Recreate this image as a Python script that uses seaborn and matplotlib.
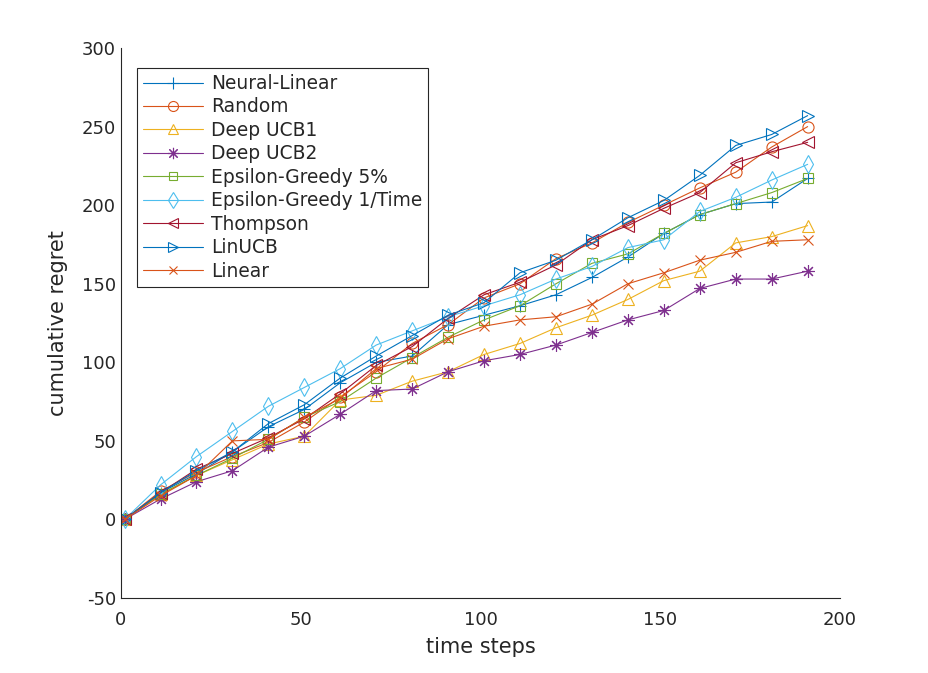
import numpy as np
import pandas as pd
import matplotlib
matplotlib.use('Agg')
import matplotlib.pyplot as plt
import seaborn as sns

# time steps (x) and cumulative regret per method
steps = [1, 11, 21, 31, 41, 51, 61, 71, 81, 91, 101, 111, 121, 131, 141, 151, 161, 171, 181, 191]

neural_linear = [0, 17, 29, 43, 59, 70, 87, 100, 104, 124, 130, 136, 143, 154, 167, 182, 194, 201, 202, 217]
random_ = [0, 18, 30, 40, 49, 62, 78, 94, 112, 124, 141, 150, 166, 176, 189, 200, 211, 221, 237, 250]
deep_ucb1 = [0, 16, 28, 38, 48, 53, 76, 79, 88, 94, 105, 112, 122, 130, 140, 152, 158, 176, 180, 187]
deep_ucb2 = [0, 13, 24, 31, 46, 53, 67, 82, 83, 94, 101, 105, 111, 119, 127, 133, 147, 153, 153, 158]
eps_5 = [0, 16, 28, 39, 51, 65, 75, 90, 103, 116, 127, 136, 150, 163, 169, 182, 194, 201, 208, 217]
eps_time = [0, 22, 40, 56, 72, 84, 96, 111, 120, 129, 136, 143, 153, 161, 173, 178, 196, 205, 216, 226]
thompson = [0, 17, 32, 42, 52, 64, 80, 98, 110, 128, 143, 151, 162, 178, 187, 198, 208, 227, 234, 240]
linucb = [0, 17, 31, 43, 61, 73, 90, 104, 117, 130, 138, 157, 165, 178, 192, 203, 219, 238, 245, 257]
linear = [0, 15, 28, 50, 51, 65, 77, 96, 102, 115, 123, 127, 129, 137, 150, 157, 165, 170, 177, 178]

names = ['Neural-Linear', 'Random', 'Deep UCB1', 'Deep UCB2', 'Epsilon-Greedy 5%',
         'Epsilon-Greedy 1/Time', 'Thompson', 'LinUCB', 'Linear']
series = [neural_linear, random_, deep_ucb1, deep_ucb2, eps_5, eps_time, thompson, linucb, linear]

# matlab default colour order
colors = ['#0072BD', '#D95319', '#EDB120', '#7E2F8E', '#77AC30',
          '#4DBEEE', '#A2142F', '#0072BD', '#D95319']
markers = ['+', 'o', '^', (8, 2, 0), 's', 'd', '<', '>', 'x']
msizes = [9, 8, 8, 9, 7, 9, 8, 8, 7]

sns.set_style('white')
plt.rcParams['font.family'] = ['DejaVu Sans']
plt.rcParams['axes.unicode_minus'] = False

fig = plt.figure(figsize=(9.29, 6.73), dpi=100)
ax = fig.add_axes([0.1302, 0.1114, 0.774, 0.8172])

for name, vals, c, m, ms in zip(names, series, colors, markers, msizes):
    sns.lineplot(x=steps, y=vals, ax=ax, color=c, marker=m, markersize=ms,
                 markerfacecolor='none', markeredgecolor=c, markeredgewidth=0.8,
                 linewidth=0.8, label=name)

ax.set_xlim(0, 200)
ax.set_ylim(-50, 300)
ax.set_xticks([0, 50, 100, 150, 200])
ax.set_yticks([-50, 0, 50, 100, 150, 200, 250, 300])
ax.tick_params(direction='in', length=5, width=0.8, labelsize=13, colors='#262626')
ax.tick_params(axis='x', pad=9)
for s in ['top', 'right']:
    ax.spines[s].set_visible(False)
for s in ['left', 'bottom']:
    ax.spines[s].set_color('#262626')
    ax.spines[s].set_linewidth(0.8)

ax.set_xlabel('time steps', fontsize=15, color='#262626', labelpad=6)
ax.set_ylabel('cumulative regret', fontsize=15, color='#262626', labelpad=10)

leg = ax.legend(loc='upper left', bbox_to_anchor=(0.0223, 0.9636), borderaxespad=0,
                fontsize=13.4, handlelength=3.2, handletextpad=0.45, labelspacing=0.24,
                borderpad=0.32, markerscale=0.9, frameon=True, fancybox=False, framealpha=1)
leg.get_frame().set_edgecolor('#262626')
leg.get_frame().set_linewidth(0.8)

fig.savefig('out.png', dpi=100)
